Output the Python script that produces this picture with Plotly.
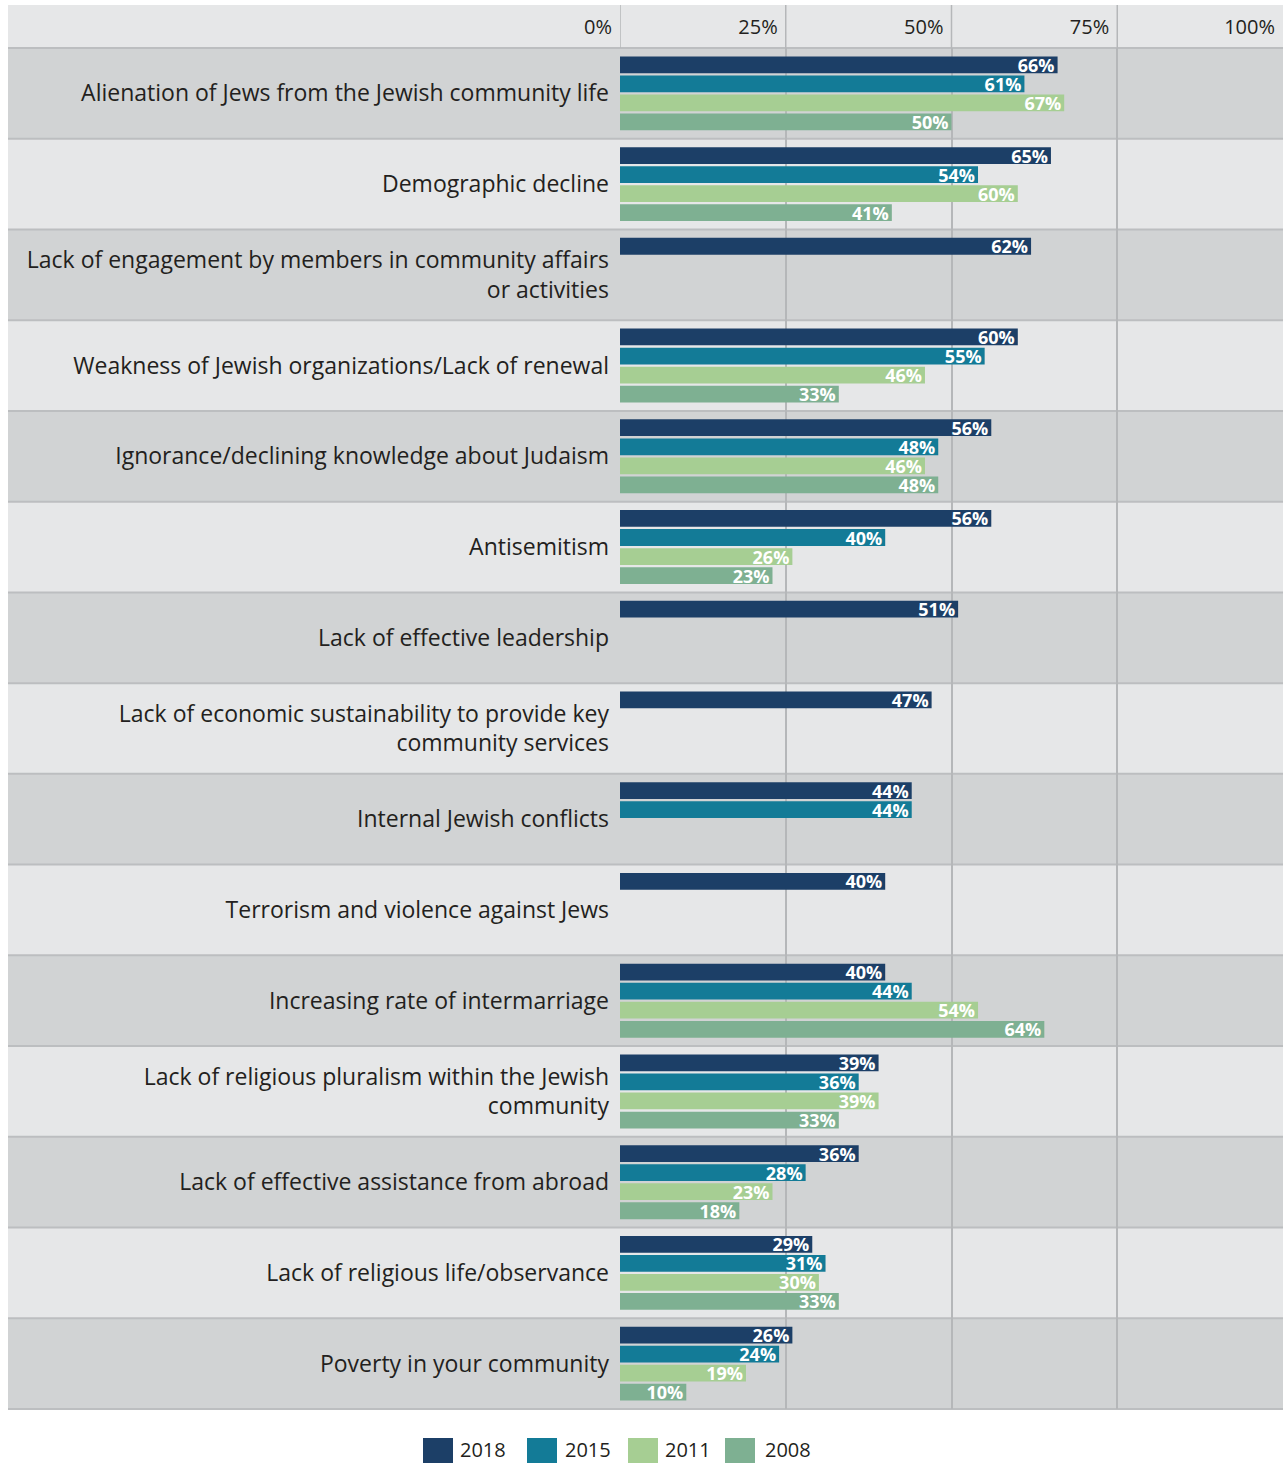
import plotly.graph_objects as go

categories = [
    "Alienation of Jews from the Jewish community life",
    "Demographic decline",
    "Lack of engagement by members in community affairs<br>or activities",
    "Weakness of Jewish organizations/Lack of renewal",
    "Ignorance/declining knowledge about Judaism",
    "Antisemitism",
    "Lack of effective leadership",
    "Lack of economic sustainability to provide key<br>community services",
    "Internal Jewish conflicts",
    "Terrorism and violence against Jews",
    "Increasing rate of intermarriage",
    "Lack of religious pluralism within the Jewish<br>community",
    "Lack of effective assistance from abroad",
    "Lack of religious life/observance",
    "Poverty in your community",
]
years = ["2018", "2015", "2011", "2008"]
v2018 = [66, 65, 62, 60, 56, 56, 51, 47, 44, 40, 40, 39, 36, 29, 26]
v2015 = [61, 54, None, 55, 48, 40, None, None, 44, None, 44, 36, 28, 31, 24]
v2011 = [67, 60, None, 46, 46, 26, None, None, None, None, 54, 39, 23, 30, 19]
v2008 = [50, 41, None, 33, 48, 23, None, None, None, None, 64, 33, 18, 33, 10]
series = [v2018, v2015, v2011, v2008]
colors = ["#1c3f67", "#137b97", "#a6ce93", "#7eb092"]
tick_values = [0, 25, 50, 75, 100]
tick_labels = [f"{t}%" for t in tick_values]

FONT = "Open Sans"
TEXT = "#231f20"
W, H = 1283, 1463
ML, MR, MT, MB = 620, 0, 48, 54
PW = W - ML - MR
PH = H - MT - MB


def px_x(p):
    return (p - ML) / PW


def px_y(p):
    return (H - MB - p) / PH


fig = go.Figure()
for name, vals, col in zip(years, series, colors):
    fig.add_trace(go.Bar(
        name=name, y=categories, x=vals, orientation="h",
        marker=dict(color=col, line=dict(width=0)),
        text=["" if v is None else f"{v}%" for v in vals],
        textposition="inside", insidetextanchor="end",
        constraintext="none", cliponaxis=False,
        textfont=dict(color="white", size=18, family=FONT, weight="bold"),
        hoverinfo="skip",
    ))

n = len(categories)
shapes = []
# header row
shapes.append(dict(type="rect", xref="paper", yref="paper", x0=px_x(8), x1=1,
                   y0=1, y1=px_y(5), fillcolor="#e6e7e8", line=dict(width=0), layer="below"))
for i in range(n):
    top = 1 - i / n
    bot = 1 - (i + 1) / n
    shapes.append(dict(type="rect", xref="paper", yref="paper", x0=px_x(8), x1=1,
                       y0=bot, y1=top, fillcolor="#d1d3d4" if i % 2 == 0 else "#e6e7e8",
                       line=dict(width=0), layer="below"))
for i in range(n + 1):
    yy = 1 - i / n
    shapes.append(dict(type="line", xref="paper", yref="paper", x0=px_x(8), x1=1,
                       y0=yy, y1=yy, line=dict(color="#bcbec0", width=2), layer="below"))
# gridlines through header
for t in tick_values[:-1]:
    shapes.append(dict(type="line", xref="x", yref="paper", x0=t, x1=t,
                       y0=1, y1=px_y(5), line=dict(color="#b5b7b9", width=1.5), layer="below"))

# custom legend
legend_swatch_x = [423, 527, 628, 725]
legend_text_x = [458, 563, 663, 763]
annotations = []
for name, col, sx, tx in zip(years, colors, legend_swatch_x, legend_text_x):
    shapes.append(dict(type="rect", xref="paper", yref="paper", x0=px_x(sx), x1=px_x(sx + 30),
                       y0=px_y(1463), y1=px_y(1438), fillcolor=col, line=dict(width=0)))
    annotations.append(dict(text=name, xref="paper", yref="paper", x=px_x(tx), y=px_y(1449),
                            xanchor="left", yanchor="middle", showarrow=False,
                            font=dict(size=20, family=FONT, color=TEXT)))

fig.update_layout(
    width=W, height=H,
    margin=dict(l=ML, r=MR, t=MT, b=MB),
    barmode="group", bargap=0.16, bargroupgap=0.12,
    paper_bgcolor="white", plot_bgcolor="rgba(0,0,0,0)",
    showlegend=False,
    font=dict(family=FONT, color=TEXT),
    shapes=shapes, annotations=annotations,
    xaxis=dict(side="top", range=[0, 100], tickvals=tick_values, ticktext=tick_labels,
               ticklabelposition="outside left", ticklabelshift=-8,
               showgrid=True, gridcolor="#b5b7b9",
               gridwidth=1.5, zeroline=False, showline=False, ticks="",
               tickfont=dict(size=20, family=FONT, color=TEXT), ticklabelstandoff=9,
               fixedrange=True),
    yaxis=dict(type="category", categoryorder="array", categoryarray=categories,
               range=[n - 0.5, -0.5], showgrid=False, zeroline=False, showline=False,
               ticks="", tickfont=dict(size=23, family=FONT, color=TEXT),
               ticklabelstandoff=10, fixedrange=True),
)

fig.write_html("out.html")
